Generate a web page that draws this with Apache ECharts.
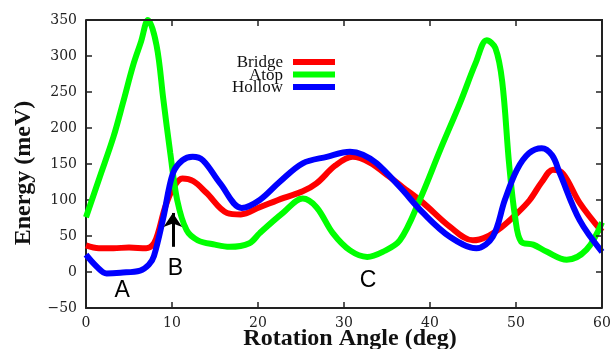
<!DOCTYPE html>
<html>
<head>
<meta charset="utf-8">
<script src="https://cdn.jsdelivr.net/npm/echarts@6/dist/echarts.min.js"></script>
<style>html,body{margin:0;padding:0;background:#fff;}#c{width:614px;height:349px;}</style>
</head>
<body>
<div id="c"></div>
<script>
const seriesNames = ['Bridge', 'Atop', 'Hollow'];
const seriesColors = ['#ff0000', '#00ff00', '#0000ff'];

const bridgeAngle  = [0, 1.5, 3.2, 5, 7, 7.9, 8.4, 9.2, 10.2, 11.2, 12.5, 14, 16.4, 18, 20.2, 23, 25.2, 26.8, 29, 31, 33, 35.3, 36.8, 39.2, 42.3, 45, 46.6, 48.3, 50, 51.6, 53, 54.3, 55.5, 57.4, 60];
const bridgeEnergy = [37, 33, 33, 34, 33, 40, 55, 90, 118, 130, 126, 110, 82, 80, 90, 103, 112, 123, 148, 160, 152, 132, 118, 96, 63, 44, 49, 62, 80, 100, 125, 142, 136, 96, 56];

const atopAngle  = [0, 1.6, 3.2, 4.3, 5.5, 6.4, 7.2, 8.2, 9.0, 9.8, 10.6, 11.7, 13, 15, 16.7, 19, 20.2, 22.9, 25.2, 26.8, 28.7, 30.7, 32.7, 34.5, 36.5, 38.8, 41.2, 43.5, 45.3, 46.6, 47.6, 48.4, 49.2, 49.9, 50.6, 52, 53.6, 55.9, 58.2, 60];
const atopEnergy = [76, 132, 188, 235, 288, 320, 350, 315, 239, 165, 100, 58, 44, 38, 35, 40, 54, 82, 102, 90, 54, 30, 21, 28, 44, 100, 170, 235, 290, 322, 311, 264, 150, 76, 42, 38, 28, 17, 31, 69];

const hollowAngle  = [0, 1.2, 2.4, 4, 6.3, 7.3, 7.9, 9, 10.1, 11.2, 12.4, 13.6, 15.6, 18.1, 20.2, 22.5, 25.2, 28, 30.7, 32.2, 33.8, 36.5, 39.2, 42.3, 45.4, 47.3, 48.7, 50.1, 51.5, 53, 54.2, 55.1, 57.4, 60];
const hollowEnergy = [24, 8, -2, -1, 2, 10, 22, 76, 137, 155, 160, 155, 123, 89, 100, 125, 151, 160, 167, 163, 151, 118, 82, 49, 33, 49, 100, 142, 165, 172, 162, 137, 72, 28];

const xTicks = {min: 0, max: 60, interval: 10};
const yTicks = {min: -50, max: 350, interval: 50};

const annotations = [
  {text: 'A', angle: 4.2, energy: -26},
  {text: 'B', angle: 10.4, energy: 5},
  {text: 'C', angle: 32.8, energy: -12}
];
const arrowFrom = [10.1, 35];
const arrowTo = [10.1, 82];

function zip(a, b) { return a.map((v, i) => [v, b[i]]); }

const chart = echarts.init(document.getElementById('c'), null, {renderer: 'canvas'});

function axisLine() { return {show: true, onZero: false, lineStyle: {color: '#222', width: 2}}; }
function tick() { return {show: true, inside: true, length: 6, lineStyle: {color: '#222', width: 1.5}}; }
const labelFont = {fontFamily: 'DejaVu Serif', fontSize: 14, color: '#222'};

const data = [zip(bridgeAngle, bridgeEnergy), zip(atopAngle, atopEnergy), zip(hollowAngle, hollowEnergy)];

const series = seriesNames.map((name, i) => ({
  name: name,
  type: 'line',
  data: data[i],
  smooth: 0.35,
  showSymbol: false,
  symbol: 'none',
  lineStyle: {color: seriesColors[i], width: 6},
  itemStyle: {color: seriesColors[i]},
  z: 2 + i
}));

series[0].markLine = {
  silent: true,
  symbol: ['none', 'arrow'],
  symbolSize: 14,
  label: {show: false},
  lineStyle: {color: '#000', width: 3, type: 'solid'},
  data: [[{coord: arrowFrom}, {coord: arrowTo}]]
};

const option = {
  animation: false,
  backgroundColor: '#fff',
  grid: {left: 86, right: 12, top: 20, bottom: 41, containLabel: false, outerBoundsMode: 'none'},
  xAxis: {type: 'value', min: xTicks.min, max: xTicks.max, interval: xTicks.interval, position: 'bottom',
     axisLine: axisLine(), axisTick: tick(), splitLine: {show: false},
     axisLabel: Object.assign({margin: 8}, labelFont),
     name: 'Rotation Angle (deg)', nameLocation: 'middle', nameGap: 19, nameMoveOverlap: false,
     nameTextStyle: {fontFamily: 'Liberation Serif', fontWeight: 'bold', fontSize: 24, color: '#111', padding: [0, 0, 0, 12]}},
  yAxis: {type: 'value', min: yTicks.min, max: yTicks.max, interval: yTicks.interval, position: 'left',
     axisLine: axisLine(), axisTick: tick(), splitLine: {show: false},
     axisLabel: Object.assign({margin: 9, formatter: v => v < 0 ? '\u2212' + (-v) : String(v)}, labelFont),
     name: 'Energy (meV)', nameLocation: 'middle', nameGap: 50, nameRotate: 90, nameMoveOverlap: false,
     nameTextStyle: {fontFamily: 'Liberation Serif', fontWeight: 'bold', fontSize: 24, color: '#111', padding: [0, 18, 0, 0]}},
  series: series
};
chart.setOption(option);

const graphics = [];
// mirrored frame and ticks on top / right, positioned from the axis scales
const tl = chart.convertToPixel({gridIndex: 0}, [xTicks.min, yTicks.max]);
const br = chart.convertToPixel({gridIndex: 0}, [xTicks.max, yTicks.min]);
const frame = {stroke: '#222', lineWidth: 2};
graphics.push({type: 'line', silent: true, z: 100, shape: {x1: tl[0], y1: tl[1], x2: br[0] + 1, y2: tl[1]}, style: frame});
graphics.push({type: 'line', silent: true, z: 100, shape: {x1: br[0], y1: tl[1], x2: br[0], y2: br[1]}, style: frame});
for (let v = xTicks.min; v <= xTicks.max; v += xTicks.interval) {
  const p = chart.convertToPixel({gridIndex: 0}, [v, yTicks.max]);
  graphics.push({type: 'line', silent: true, z: 100, shape: {x1: p[0], y1: p[1], x2: p[0], y2: p[1] + 6}, style: {stroke: '#222', lineWidth: 1.5}});
}
for (let v = yTicks.min; v <= yTicks.max; v += yTicks.interval) {
  const p = chart.convertToPixel({gridIndex: 0}, [xTicks.max, v]);
  graphics.push({type: 'line', silent: true, z: 100, shape: {x1: p[0] - 6, y1: p[1], x2: p[0], y2: p[1]}, style: {stroke: '#222', lineWidth: 1.5}});
}
seriesNames.forEach((name, i) => {
  const y = 63 + i * 12.5;
  graphics.push({type: 'text', silent: true, style: {text: name, x: 283, y: y, textAlign: 'right', textVerticalAlign: 'middle',
    font: '17px "Liberation Serif"', fill: '#111'}});
  graphics.push({type: 'line', silent: true, shape: {x1: 293, y1: y - 1, x2: 335, y2: y - 1}, style: {stroke: seriesColors[i], lineWidth: 6}});
});
annotations.forEach(a => {
  const p = chart.convertToPixel({gridIndex: 0}, [a.angle, a.energy]);
  graphics.push({type: 'text', silent: true, style: {text: a.text, x: p[0], y: p[1], textAlign: 'center', textVerticalAlign: 'middle',
    font: '23px "Liberation Sans"', fill: '#000'}});
});
chart.setOption({graphic: graphics});
</script>
</body>
</html>
